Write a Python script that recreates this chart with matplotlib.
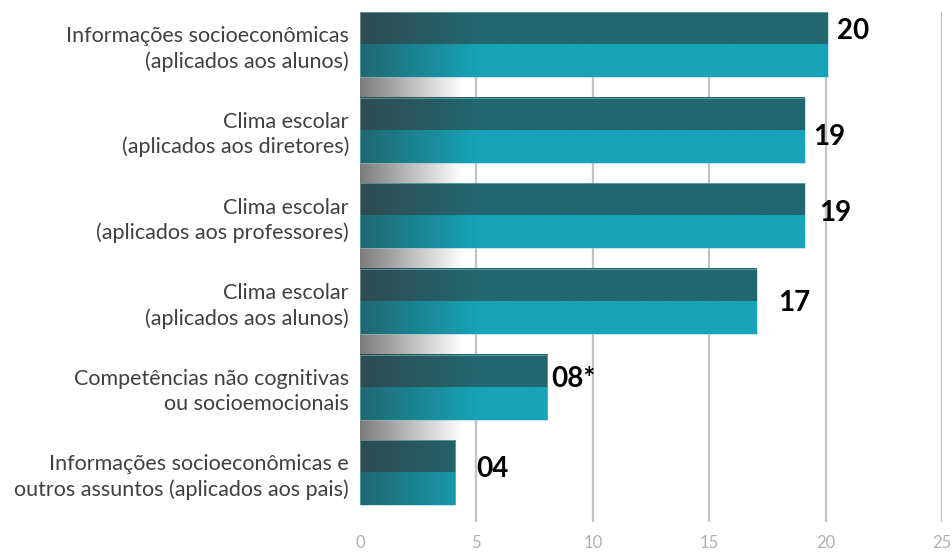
import numpy as np
import matplotlib
matplotlib.use('Agg')
import matplotlib.pyplot as plt
from matplotlib.colors import to_rgb

categories = [
    'Informações socioeconômicas\n(aplicados aos alunos)',
    'Clima escolar\n(aplicados aos diretores)',
    'Clima escolar\n(aplicados aos professores)',
    'Clima escolar\n(aplicados aos alunos)',
    'Competências não cognitivas\nou socioemocionais',
    'Informações socioeconômicas e\noutros assuntos (aplicados aos pais)',
]
values = [20.1, 19.1, 19.1, 17.05, 8.05, 4.1]
value_labels = ['20', '19', '19', '17', '08*', '04']
xticks = [0, 5, 10, 15, 20, 25]

# label placement (px offsets from bar end / bar centre)
label_dx = [9, 9, 15, 21, 4, 21]
label_dy = [14, -7, 3, -2, 8, 4]

DARK_L, DARK_R = to_rgb('#2f4b52'), to_rgb('#22676f')
LIGHT_L, LIGHT_R = to_rgb('#1f6870'), to_rgb('#17a3b8')
GRAY_L = to_rgb('#7c7c7c')
FADE = 5.0
H = 0.76

fig = plt.figure(figsize=(9.53, 5.54), dpi=100)
ax = fig.add_axes([360 / 953, 1 - 522 / 554, 582 / 953, 510 / 554])
ax.set_xlim(0, 25)
ax.set_ylim(5.575, -0.38)


def ramp(c0, c1, x0, x1, n=200, fade=FADE):
    x = np.linspace(x0, x1, n)
    t = np.clip(x / fade, 0, 1)[:, None]
    c0 = np.array(c0)
    c1 = np.array(c1)
    return (c0 + (c1 - c0) * t)[None, :, :]


for x in xticks[1:]:
    ax.plot([x, x], [5.575, -0.38], color='#c3c3c3', lw=1.6, zorder=0)

for i, v in enumerate(values):
    top = i - H / 2
    mid = i
    bot = i + H / 2
    ax.imshow(ramp(DARK_L, DARK_R, 0, v), extent=(0, v, mid, top),
              aspect='auto', interpolation='bilinear', zorder=2)
    ax.imshow(ramp(LIGHT_L, LIGHT_R, 0, v), extent=(0, v, bot, mid),
              aspect='auto', interpolation='bilinear', zorder=2)
    ax.plot([0, v, v, 0, 0], [top, top, bot, bot, top], color='#8fc9d0',
            lw=0.6, alpha=0.6, zorder=3)
    if i < len(values) - 1:
        ax.imshow(ramp(GRAY_L, (1, 1, 1), 0, 4.4, fade=4.4),
                  extent=(0, 4.4, i + 1 - H / 2, bot),
                  aspect='auto', interpolation='bilinear', zorder=1)
    ax.annotate(value_labels[i], (v, i), xytext=(label_dx[i] * 0.72, label_dy[i] * 0.72),
                textcoords='offset points', ha='left', va='center',
                fontsize=20, fontweight='bold', family='Lato', color='black')

ax.set_xlim(0, 25)
ax.set_ylim(5.575, -0.38)
ax.set_xticks(xticks)
ax.set_xticklabels([str(x) for x in xticks], family='Lato', fontsize=12, color='#b0b0b0')
ax.set_yticks(range(len(categories)))
ax.set_yticklabels(categories, family='Lato', fontsize=15.5, color='#404040',
                   linespacing=1.3)
ax.tick_params(length=0)
ax.tick_params(axis='x', pad=9)
ax.tick_params(axis='y', pad=8)
for s in ax.spines.values():
    s.set_visible(False)

fig.savefig('out.png', dpi=100)
